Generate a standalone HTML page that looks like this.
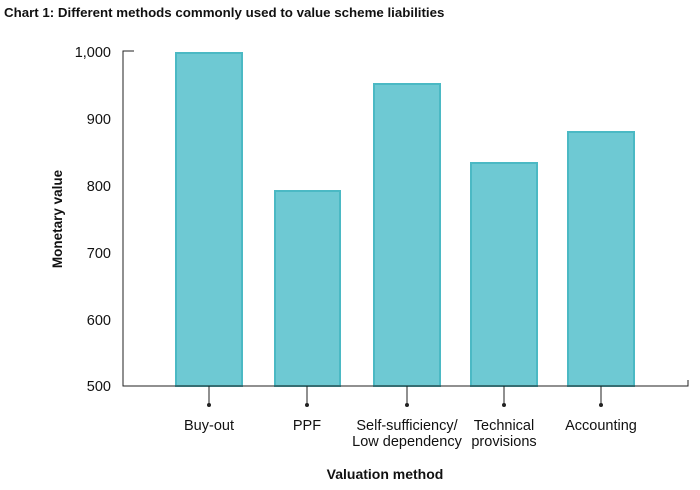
<!DOCTYPE html>
<html><head><style>
body{margin:0;background:#fff;width:700px;height:485px;overflow:hidden;font-family:"Liberation Sans",sans-serif;}
</style></head><body>
<svg width="700" height="485" xmlns="http://www.w3.org/2000/svg" font-family="Liberation Sans, sans-serif">
<text x="4" y="17" font-size="13.3" font-weight="bold" fill="#111">Chart 1: Different methods commonly used to value scheme liabilities</text>
<g font-size="14.5" fill="#111" text-anchor="end">
<text x="111" y="57">1,000</text>
<text x="111" y="124">900</text>
<text x="111" y="191">800</text>
<text x="111" y="258">700</text>
<text x="111" y="325">600</text>
<text x="111" y="391">500</text>
</g>
<text transform="translate(62,219) rotate(-90)" font-size="13.5" font-weight="bold" text-anchor="middle" fill="#111">Monetary value</text>
<g fill="#6ec9d3" stroke="#4bb9c4" stroke-width="2">
<rect x="176" y="53" width="66" height="333"/>
<rect x="275" y="191" width="65" height="195"/>
<rect x="374" y="84" width="66" height="302"/>
<rect x="471" y="163" width="66" height="223"/>
<rect x="568" y="132" width="66" height="254"/>
</g>
<g stroke="#222" stroke-width="1" fill="none">
<path d="M134 51 H123 V386 H688 V380"/>
<path d="M209 386 V404 M307 386 V404 M407 386 V404 M504 386 V404 M601 386 V404"/>
</g>
<g fill="#222">
<circle cx="209" cy="405" r="2"/><circle cx="307" cy="405" r="2"/><circle cx="407" cy="405" r="2"/><circle cx="504" cy="405" r="2"/><circle cx="601" cy="405" r="2"/>
</g>
<g font-size="14.5" fill="#111" text-anchor="middle">
<text x="209" y="430">Buy-out</text>
<text x="307" y="430">PPF</text>
<text x="407" y="430">Self-sufficiency/</text>
<text x="407" y="446">Low dependency</text>
<text x="504" y="430">Technical</text>
<text x="504" y="446">provisions</text>
<text x="601" y="430">Accounting</text>
</g>
<text x="385" y="479" font-size="14" font-weight="bold" text-anchor="middle" fill="#111">Valuation method</text>
</svg>
</body></html>
